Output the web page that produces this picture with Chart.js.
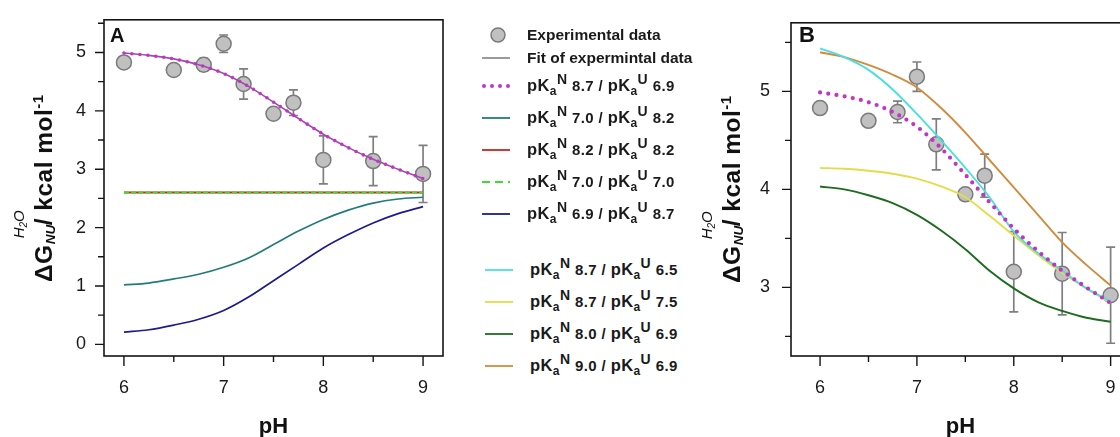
<!DOCTYPE html>
<html>
<head>
<meta charset="utf-8">
<script src="https://cdn.jsdelivr.net/npm/chart.js@4.4.1/dist/chart.umd.min.js"></script>
<style>
html,body{margin:0;padding:0;width:1120px;height:437px;overflow:hidden;background:#fff;font-family:'Liberation Sans',Arial,sans-serif;color:#111;}
#wrapA{position:absolute;left:0;top:0;width:460px;height:450px;}
#wrapB{position:absolute;left:745px;top:0;width:400px;height:450px;}
.yt{position:absolute;white-space:nowrap;transform-origin:0 0;transform:rotate(-90deg);font-weight:bold;font-size:24.5px;line-height:24px;letter-spacing:0.5px;color:#111;}
.ss{display:inline-block;position:relative;width:19px;height:1px;}
.h2o{position:absolute;left:6px;bottom:24px;font-size:15px;line-height:15px;font-weight:normal;font-style:italic;letter-spacing:0;}
.h2o .s2{font-size:10px;position:relative;top:3px;}
.nu{position:absolute;left:0;bottom:-5px;font-size:13.5px;line-height:13px;font-weight:bold;font-style:italic;letter-spacing:0;}
.m1{font-size:15px;position:relative;top:-9px;}
.panel{position:absolute;font-weight:bold;line-height:1;color:#111;}
.row{position:absolute;height:20px;display:flex;align-items:center;white-space:nowrap;}
.row svg{flex:none;}
.lt{font-weight:bold;font-size:15.5px;color:#1a1a1a;margin-left:13px;line-height:20px;}
.lt2{letter-spacing:0.4px;}
.pk{font-size:16.5px;}
.num{font-size:15px;}
.lt sub{font-size:12px;position:relative;top:4px;vertical-align:baseline;}
.lt sup{font-size:14px;position:relative;top:-7px;vertical-align:baseline;}
</style>
</head>
<body>
<div id="wrapA"><canvas id="cA" width="460" height="450"></canvas></div>
<div id="wrapB"><canvas id="cB" width="400" height="450"></canvas></div>

<div class="panel" style="left:110px;top:25px;font-size:20px;">A</div>
<div class="panel" style="left:799px;top:24px;font-size:22px;">B</div>

<div class="yt" style="left:32px;top:282px;">ΔG<span class="ss"><i class="h2o">H<span class="s2">2</span>O</i><i class="nu">NU</i></span>/ kcal mol<span class="m1">-1</span></div>
<div class="yt" style="left:720px;top:283px;">ΔG<span class="ss"><i class="h2o">H<span class="s2">2</span>O</i><i class="nu">NU</i></span>/ kcal mol<span class="m1">-1</span></div>

<div id="legend"></div>

<script>
// ---------- data ----------
const phGrid = [6, 6.25, 6.5, 6.75, 7, 7.25, 7.5, 7.75, 8, 8.25, 8.5, 8.75, 9];

const expPH  = [6, 6.5, 6.8, 7.0, 7.2, 7.5, 7.7, 8.0, 8.5, 9.0];
const expDG  = [4.83, 4.70, 4.79, 5.15, 4.46, 3.95, 4.14, 3.16, 3.14, 2.92];
const expErr = [0, 0, 0.11, 0.15, 0.26, 0, 0.22, 0.41, 0.42, 0.49];

// fit of experimental data = pKaN 8.7 / pKaU 6.9
const fit87_69 = [4.99, 4.95, 4.89, 4.79, 4.64, 4.42, 4.15, 3.87, 3.60, 3.37, 3.17, 3.00, 2.84];
const sim70_82 = [1.02, 1.05, 1.12, 1.20, 1.32, 1.48, 1.71, 1.94, 2.14, 2.30, 2.42, 2.49, 2.52];
const sim82_82 = [2.60, 2.60, 2.60, 2.60, 2.60, 2.60, 2.60, 2.60, 2.60, 2.60, 2.60, 2.60, 2.60];
const sim70_70 = [2.60, 2.60, 2.60, 2.60, 2.60, 2.60, 2.60, 2.60, 2.60, 2.60, 2.60, 2.60, 2.60];
const sim69_87 = [0.21, 0.25, 0.33, 0.43, 0.58, 0.81, 1.09, 1.37, 1.65, 1.88, 2.08, 2.24, 2.36];
const sim87_65 = [5.44, 5.35, 5.22, 5.02, 4.77, 4.50, 4.22, 3.92, 3.57, 3.35, 3.17, 2.99, 2.86];
const sim87_75 = [4.22, 4.21, 4.19, 4.16, 4.11, 4.03, 3.92, 3.73, 3.53, 3.33, 3.15, 2.99, 2.84];
const sim80_69 = [4.03, 4.00, 3.94, 3.86, 3.74, 3.58, 3.39, 3.17, 2.99, 2.85, 2.76, 2.69, 2.65];
const sim90_69 = [5.40, 5.35, 5.27, 5.17, 5.04, 4.83, 4.58, 4.30, 4.02, 3.74, 3.46, 3.23, 3.02];

const xTicks  = [6, 6.5, 7, 7.5, 8, 8.5, 9];
const yTicksA = [0, 0.5, 1, 1.5, 2, 2.5, 3, 3.5, 4, 4.5, 5, 5.5];
const yTicksB = [2.5, 3, 3.5, 4, 4.5, 5, 5.5];

// legend entries
const legendPKN = ['8.7', '7.0', '8.2', '7.0', '6.9', '8.7', '8.7', '8.0', '9.0'];
const legendPKU = ['6.9', '8.2', '8.2', '7.0', '8.7', '6.5', '7.5', '6.9', '6.9'];

// ---------- styles ----------
const FAM = "'Liberation Sans', Arial, sans-serif";
const C = {
  magenta: '#c233c8', fitLine: '#9a4fa5', teal: '#237b7b', red: '#cc2222', green: '#3ddc2e',
  navy: '#1c1c8c', cyan: '#4ae0e2', yellow: '#e2dd48', dgreen: '#1f6b1f', orange: '#d18b3c',
  markerFill: '#c0c0c0', markerEdge: '#7a7a7a', err: '#7f7f7f'
};

function curve(arr) { return phGrid.map((x, i) => ({x: x, y: arr[i]})); }
function expPoints() { return expPH.map((x, i) => ({x: x, y: expDG[i]})); }

function lineDS(arr, color, extra) {
  return Object.assign({
    data: curve(arr), showLine: true, borderColor: color, backgroundColor: color,
    borderWidth: 1.7, pointRadius: 0, pointHoverRadius: 0, cubicInterpolationMode: 'monotone', order: 1
  }, extra || {});
}
function expDS() {
  return {
    data: expPoints(), showLine: false, pointRadius: 7.5, pointHoverRadius: 7.5,
    backgroundColor: C.markerFill, borderColor: C.markerEdge, borderWidth: 1.5, order: 50
  };
}

const decoPlugin = {
  id: 'deco',
  beforeDatasetsDraw(chart) {
    const ctx = chart.ctx, xs = chart.scales.x, ys = chart.scales.y;
    ctx.save();
    ctx.strokeStyle = C.err; ctx.lineWidth = 1.7;
    expPH.forEach((p, i) => {
      const e = expErr[i];
      if (!e) return;
      const x = xs.getPixelForValue(p);
      const y1 = ys.getPixelForValue(expDG[i] + e);
      const y2 = ys.getPixelForValue(expDG[i] - e);
      ctx.beginPath();
      ctx.moveTo(x, y1); ctx.lineTo(x, y2);
      ctx.moveTo(x - 4.5, y1); ctx.lineTo(x + 4.5, y1);
      ctx.moveTo(x - 4.5, y2); ctx.lineTo(x + 4.5, y2);
      ctx.stroke();
    });
    ctx.restore();
  },
  afterDraw(chart) {
    const ctx = chart.ctx, a = chart.chartArea, xs = chart.scales.x, ys = chart.scales.y;
    ctx.save();
    ctx.strokeStyle = '#151515'; ctx.lineWidth = 1.6;
    ctx.strokeRect(a.left, a.top, a.right - a.left, a.bottom - a.top);
    ctx.lineWidth = 1.4;
    ctx.beginPath();
    xs.ticks.forEach(t => {
      const x = xs.getPixelForValue(t.value);
      const L = Number.isInteger(t.value) ? 10 : 6;
      ctx.moveTo(x, a.bottom); ctx.lineTo(x, a.bottom + L);
    });
    ys.ticks.forEach(t => {
      const y = ys.getPixelForValue(t.value);
      const L = Number.isInteger(t.value) ? 9 : 6;
      ctx.moveTo(a.left, y); ctx.lineTo(a.left - L, y);
    });
    ctx.stroke();
    ctx.restore();
  }
};

function makeOptions(xmin, xmax, ymin, ymax, yTicks, yWidth, yPad, padRight) {
  return {
    responsive: false, animation: false, devicePixelRatio: 1,
    layout: {padding: {top: 16, right: padRight, left: 0, bottom: 0}},
    plugins: {legend: {display: false}, tooltip: {enabled: false}},
    events: [],
    scales: {
      x: {
        type: 'linear', min: xmin, max: xmax,
        afterBuildTicks: s => { s.ticks = xTicks.map(v => ({value: v})); },
        afterFit: s => { s.height = 94; },
        ticks: {callback: v => Number.isInteger(v) ? String(v) : '', font: {size: 18, family: FAM},
                color: '#1a1a1a', padding: 11, maxRotation: 0, autoSkip: false},
        grid: {drawOnChartArea: false, drawTicks: true, tickLength: 10, tickColor: 'rgba(0,0,0,0)'},
        border: {display: false},
        title: {display: true, text: 'pH', color: '#111', font: {size: 22, weight: 'bold', family: FAM},
                padding: {top: 0, bottom: 9.8}}
      },
      y: {
        type: 'linear', min: ymin, max: ymax,
        afterBuildTicks: s => { s.ticks = yTicks.map(v => ({value: v})); },
        afterFit: s => { s.width = yWidth; },
        ticks: {callback: v => Number.isInteger(v) ? String(v) : '', font: {size: 18, family: FAM},
                color: '#1a1a1a', padding: yPad, autoSkip: false},
        grid: {drawOnChartArea: false, drawTicks: true, tickLength: 9, tickColor: 'rgba(0,0,0,0)'},
        border: {display: false}
      }
    }
  };
}

Chart.defaults.font.family = FAM;

new Chart(document.getElementById('cA'), {
  type: 'scatter',
  data: {datasets: [
    lineDS(fit87_69, C.magenta, {borderWidth: 3.6, borderDash: [0, 8], borderCapStyle: 'round', order: 0}),
    lineDS(fit87_69, C.fitLine, {borderWidth: 1.6, order: 1}),
    lineDS(sim70_70, C.green, {borderWidth: 2, borderDash: [5, 2.2], order: 2}),
    lineDS(sim82_82, C.red, {borderWidth: 2, order: 3}),
    lineDS(sim70_82, C.teal, {order: 4}),
    lineDS(sim69_87, C.navy, {order: 5}),
    expDS()
  ]},
  options: makeOptions(5.8, 9.2, -0.2, 5.56, yTicksA, 104, 9, 17),
  plugins: [decoPlugin]
});

new Chart(document.getElementById('cB'), {
  type: 'scatter',
  data: {datasets: [
    lineDS(fit87_69, C.magenta, {borderWidth: 4.2, borderDash: [0, 8.3], borderCapStyle: 'round', order: 0}),
    lineDS(sim87_65, C.cyan, {borderWidth: 1.9, order: 1}),
    lineDS(sim87_75, C.yellow, {borderWidth: 1.9, order: 2}),
    lineDS(sim80_69, C.dgreen, {borderWidth: 1.9, order: 3}),
    lineDS(sim90_69, C.orange, {borderWidth: 1.9, order: 4}),
    expDS()
  ]},
  options: makeOptions(5.7, 9.2, 2.3, 5.7, yTicksB, 46, 12, 15),
  plugins: [decoPlugin]
});

// ---------- legend (HTML) ----------
const legendColors = [C.magenta, C.teal, C.red, C.green, C.navy, C.cyan, C.yellow, C.dgreen, C.orange];
const legendY = [86, 118, 150, 182, 214, 270, 302, 334, 366];
const leg = document.getElementById('legend');

function addRow(left, y, svgInner, html, cls) {
  const r = document.createElement('div');
  r.className = 'row';
  r.style.left = left + 'px';
  r.style.top = (y - 10) + 'px';
  r.innerHTML = '<svg width="36" height="20" viewBox="0 0 36 20">' + svgInner + '</svg><span class="lt ' + (cls || '') + '">' + html + '</span>';
  leg.appendChild(r);
}
addRow(478, 35, '<circle cx="20" cy="10" r="7" fill="' + C.markerFill + '" stroke="' + C.markerEdge + '" stroke-width="1.5"/>', 'Experimental data');
addRow(478, 57.5, '<line x1="4" y1="10" x2="32" y2="10" stroke="#808080" stroke-width="1.6"/>', 'Fit of expermintal data');
legendPKN.forEach((n, i) => {
  const left = i < 5 ? 478 : 481;
  let sample;
  if (i === 0) sample = '<line x1="6" y1="10" x2="32" y2="10" stroke="' + legendColors[i] + '" stroke-width="4" stroke-linecap="round" stroke-dasharray="0 8"/>';
  else if (i === 3) sample = '<line x1="4" y1="10" x2="32" y2="10" stroke="' + legendColors[i] + '" stroke-width="1.8" stroke-dasharray="8 5"/>';
  else sample = '<line x1="4" y1="10" x2="32" y2="10" stroke="' + legendColors[i] + '" stroke-width="1.8"/>';
  const txt = '<span class="pk">pK</span><sub>a</sub><sup>N</sup><span class="num"> ' + n +
              ' / </span><span class="pk">pK</span><sub>a</sub><sup>U</sup><span class="num"> ' + legendPKU[i] + '</span>';
  addRow(left, legendY[i], sample, txt, 'lt2');
});
</script>
</body>
</html>
